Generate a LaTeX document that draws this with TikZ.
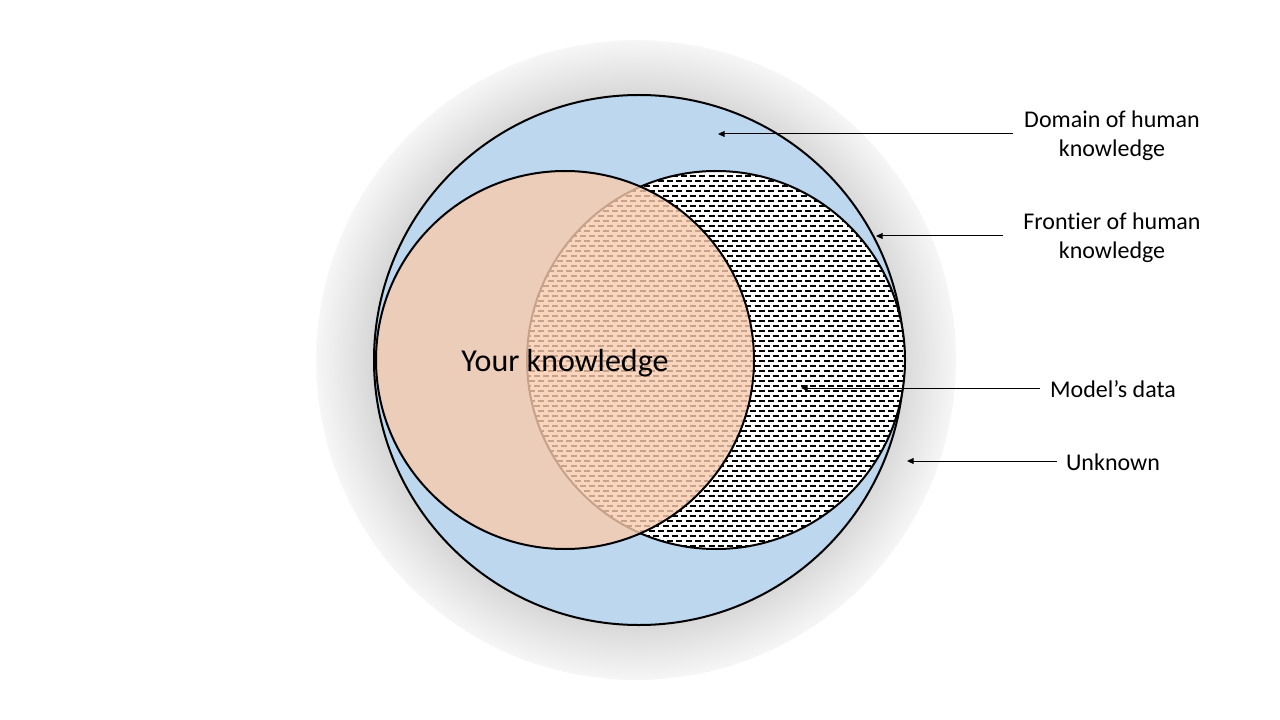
\documentclass[tikz,border=0pt]{standalone}
\usepackage{fontspec}
\setmainfont{Carlito}[Ligatures=NoCommon]
\usetikzlibrary{arrows.meta}
\definecolor{domainblue}{HTML}{BDD7EE}
\definecolor{yourorange}{HTML}{F8CBAD}
\definecolor{halogray}{HTML}{D8D8D8}
\definecolor{haloedge}{HTML}{F6F6F6}
\pgfdeclareradialshading{halo}{\pgfpoint{0bp}{0bp}}{%
  color(0bp)=(halogray); color(20.7bp)=(halogray); color(23bp)=(halogray!45!haloedge); color(25bp)=(haloedge); color(25.1bp)=(white); color(50bp)=(white)}
\tikzset{
  rim/.style={draw=black, line width=1.5pt},
  hatchline/.style={line width=0.8pt, dash pattern=on 4.5pt off 2.4pt},
  pointer/.style={line width=0.75pt, -{Triangle[length=5pt,width=4.5pt]}},
  tag/.style={font=\fontsize{18}{21.75}\selectfont, align=center, inner sep=0pt}
}
\begin{document}
\begin{tikzpicture}[x=0.75pt, y=-0.75pt]
  \useasboundingbox (0,0) rectangle (1280,720);
  \shade[shading=halo] (636,360) circle[radius=320];
  \fill[domainblue] (639,360) circle[radius=265];
  \draw[rim] (639,360) circle[radius=265];
  \fill[white] (716,360) circle[radius=189];
  \begin{scope}
    \clip (716,360) circle[radius=189];
    \foreach \i in {0,...,76} {
      \pgfmathsetmacro\yy{171+5*\i}
      \pgfmathsetmacro\ph{mod(\i,2)*3.45}
      \draw[hatchline, dash phase=\ph pt] (520,\yy) -- (910,\yy);
    }
  \end{scope}
  \draw[rim] (716,360) circle[radius=189];
  \fill[yourorange, opacity=0.8] (565,360) circle[radius=189];
  \draw[rim] (565,360) circle[radius=189];
  \node[font=\fontsize{24}{28}\selectfont] (know) at (565,363) {Your knowledge};

  \coordinate (domaintip) at (718,134);
  \coordinate (frontiertip) at (876,236);
  \coordinate (modeltip) at (801,388);
  \coordinate (unknowntip) at (907,461);
  \node[tag] (domain) at (1112,136) {Domain of human\\knowledge};
  \node[tag] (frontier) at (1112,238) {Frontier of human\\knowledge};
  \node[tag] (model) at (1113,389) {Model’s data};
  \node[tag] (unknown) at (1113,462) {Unknown};
  \draw[pointer] ([xshift=-8.25pt]domain.west |- domaintip) -- (domaintip);
  \draw[pointer] ([xshift=-15pt]frontier.west |- frontiertip) -- (frontiertip);
  \draw[pointer] ([xshift=-7.5pt]model.west |- modeltip) -- (modeltip);
  \draw[pointer] ([xshift=-6.75pt]unknown.west |- unknowntip) -- (unknowntip);
\end{tikzpicture}
\end{document}
